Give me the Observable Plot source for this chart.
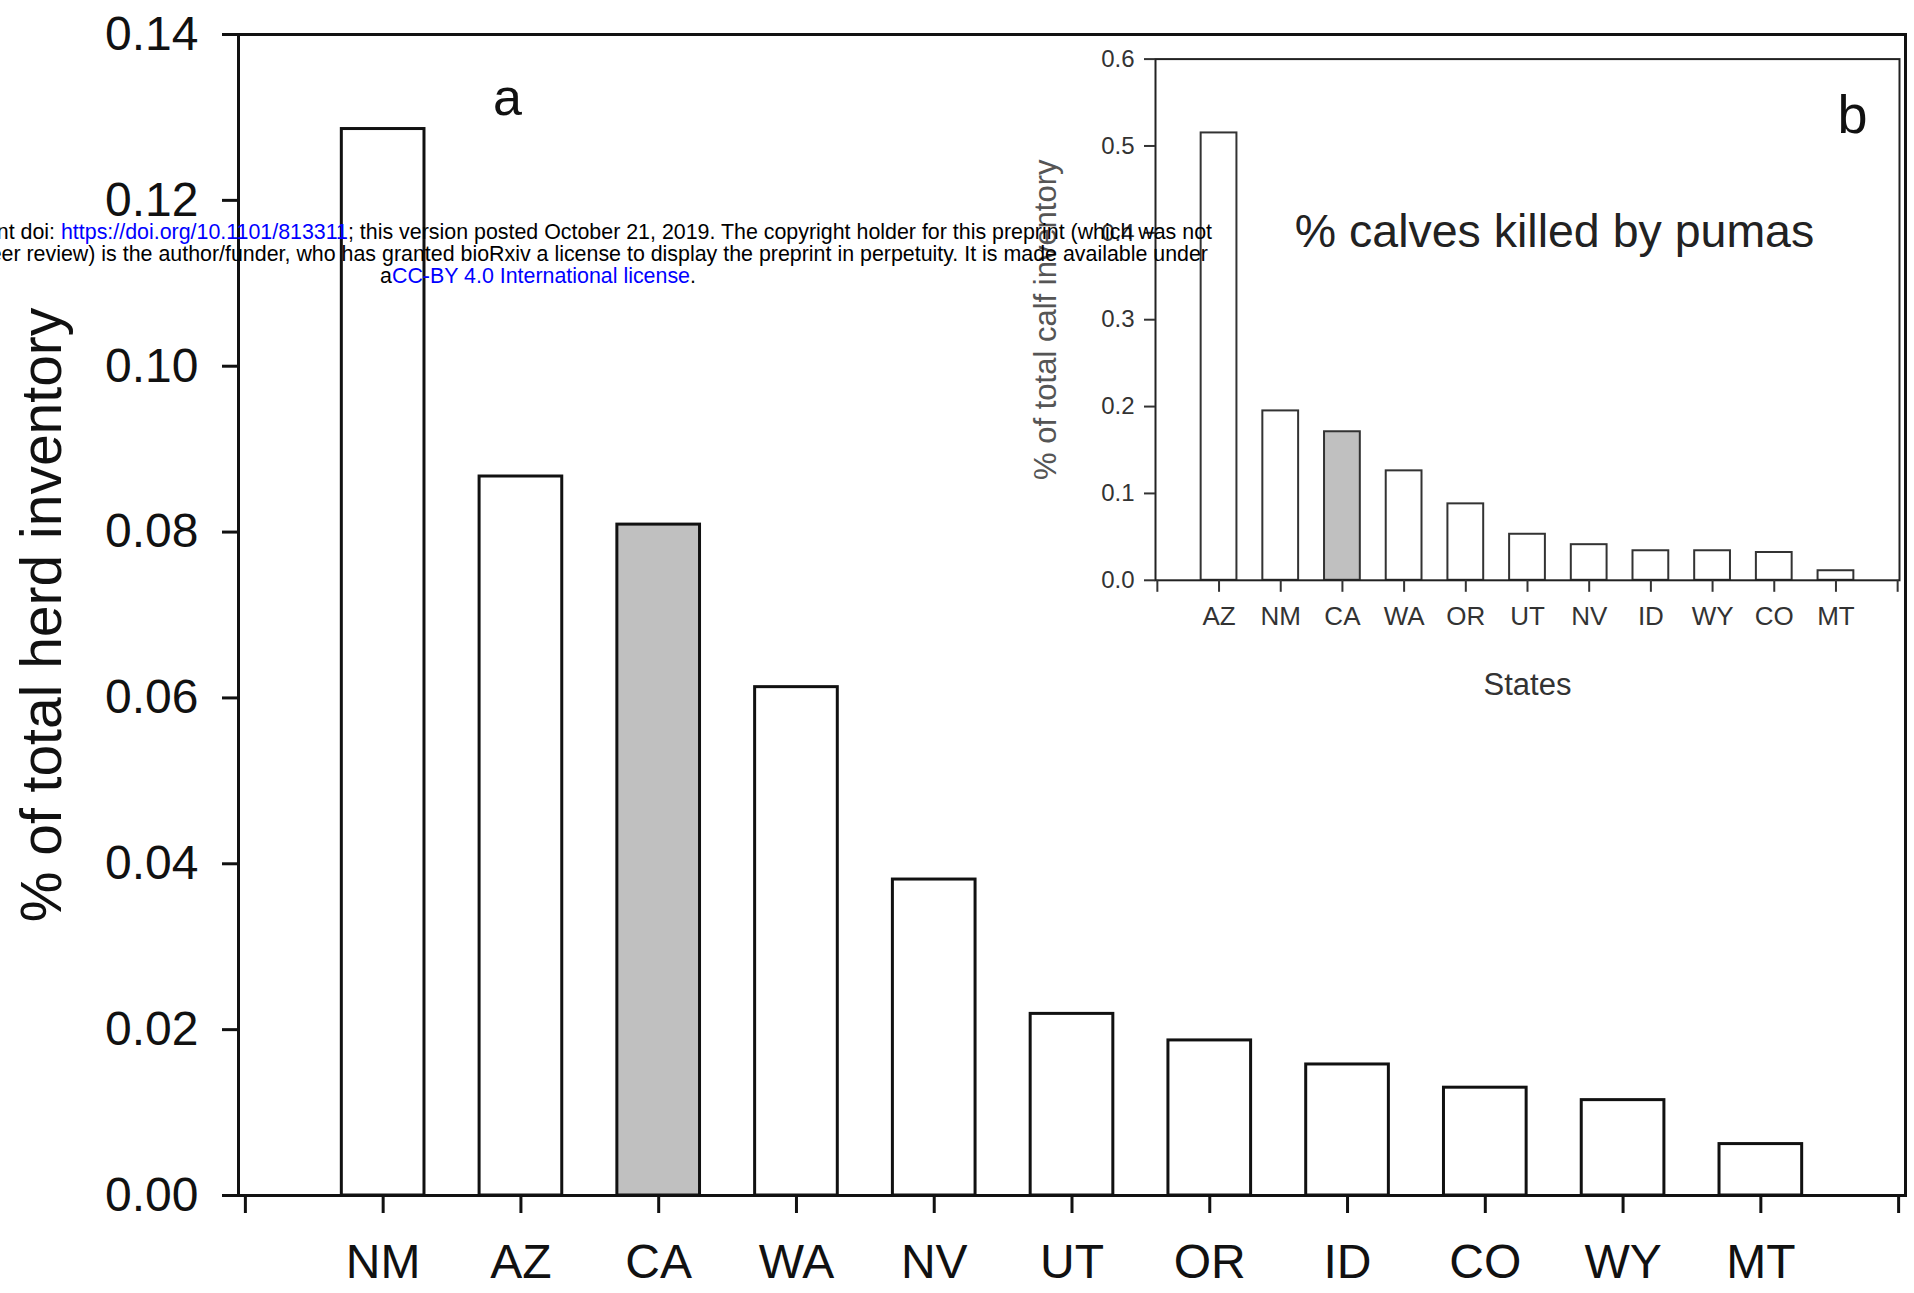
<!DOCTYPE html>
<html><head><meta charset="utf-8">
<script src="https://cdn.jsdelivr.net/npm/d3@7"></script>
<script src="https://cdn.jsdelivr.net/npm/@observablehq/plot@0.6"></script>
<style>
html,body{margin:0;padding:0;background:#fff;}
#wrap{position:relative;width:1914px;height:1293px;overflow:hidden;font-family:"Liberation Sans",Arial,sans-serif;background:#fff;}
#wrap svg{position:absolute;max-width:none;}
</style></head><body><div id="wrap"></div>
<script>
// Panel a: % of total herd inventory
const mainStates = ["NM","AZ","CA","WA","NV","UT","OR","ID","CO","WY","MT"];
const mainValues = [0.1286, 0.0867, 0.0809, 0.0613, 0.0381, 0.0219, 0.0187, 0.0158, 0.0130, 0.0115, 0.0062];
const mainYTicks = [0, 0.02, 0.04, 0.06, 0.08, 0.10, 0.12, 0.14];
// Panel b: % of total calf inventory
const insetStates = ["AZ","NM","CA","WA","OR","UT","NV","ID","WY","CO","MT"];
const insetValues = [0.515, 0.195, 0.171, 0.126, 0.088, 0.053, 0.041, 0.034, 0.034, 0.032, 0.011];
const insetYTicks = [0, 0.1, 0.2, 0.3, 0.4, 0.5, 0.6];
const highlight = "CA";

const FONT = "Liberation Sans, Arial, sans-serif";
const wrap = document.getElementById("wrap");

const mainData = mainStates.map((s, i) => ({state: s, pos: i + 1, value: mainValues[i]}));
const insetData = insetStates.map((s, i) => ({state: s, pos: i + 1, value: insetValues[i]}));

const main = Plot.plot({
  width: 1914, height: 1293,
  marginLeft: 238, marginRight: 9, marginTop: 34, marginBottom: 98,
  style: {fontFamily: FONT, background: "transparent", color: "#111", overflow: "visible"},
  x: {type: "linear", domain: [-0.05, 12.05]},
  y: {domain: [0, 0.14]},
  marks: [
    Plot.rectY(mainData.filter(d => d.state !== highlight), {x1: d => d.pos - 0.3, x2: d => d.pos + 0.3, y1: 0, y2: "value", fill: "#fff", stroke: "#111", strokeWidth: 3}),
    Plot.rectY(mainData.filter(d => d.state === highlight), {x1: d => d.pos - 0.3, x2: d => d.pos + 0.3, y1: 0, y2: "value", fill: "#c0c0c0", stroke: "#111", strokeWidth: 3}),
    Plot.frame({stroke: "#111", strokeWidth: 3}),
    Plot.axisY({ticks: mainYTicks, tickFormat: d3.format(".2f"), tickSize: 16, tickPadding: 24, fontSize: 48, strokeWidth: 3, label: null}),
    Plot.axisX({ticks: d3.range(0, 13), tickFormat: i => mainStates[i - 1] ?? "", tickSize: 18, tickPadding: 30, fontSize: 48, strokeWidth: 3, label: null}),
    Plot.text(["% of total herd inventory"], {frameAnchor: "left", dx: -196, rotate: -90, fontSize: 57, fill: "#111", lineAnchor: "middle", textAnchor: "middle"}),
    Plot.text(["a"], {frameAnchor: "top-left", dx: 269, dy: 64, fontSize: 52, fill: "#111", lineAnchor: "middle", textAnchor: "middle"})
  ]
});
main.style.left = "0px"; main.style.top = "0px";
wrap.appendChild(main);

const inset = Plot.plot({
  width: 1014, height: 740,
  marginLeft: 255, marginRight: 15, marginTop: 58.6, marginBottom: 160.2,
  style: {fontFamily: FONT, background: "transparent", color: "#333", overflow: "visible"},
  x: {type: "linear", domain: [-0.03, 12.03]},
  y: {domain: [0, 0.6]},
  marks: [
    Plot.rectY(insetData.filter(d => d.state !== highlight), {x1: d => d.pos - 0.29, x2: d => d.pos + 0.29, y1: 0, y2: "value", fill: "#fff", stroke: "#333", strokeWidth: 2}),
    Plot.rectY(insetData.filter(d => d.state === highlight), {x1: d => d.pos - 0.29, x2: d => d.pos + 0.29, y1: 0, y2: "value", fill: "#c0c0c0", stroke: "#333", strokeWidth: 2}),
    Plot.frame({stroke: "#222", strokeWidth: 2}),
    Plot.axisY({ticks: insetYTicks, tickFormat: d3.format(".1f"), tickSize: 11, tickPadding: 10, fontSize: 24, strokeWidth: 2, label: null}),
    Plot.axisX({ticks: d3.range(0, 13), tickFormat: i => insetStates[i - 1] ?? "", tickSize: 12, tickPadding: 14, fontSize: 26, strokeWidth: 2, label: null}),
    Plot.text(["States"], {frameAnchor: "bottom", dy: 105, fontSize: 31, fill: "#333", lineAnchor: "middle", textAnchor: "middle"}),
    Plot.text(["% of total calf inventory"], {frameAnchor: "left", dx: -109, rotate: -90, fontSize: 31, fill: "#555", lineAnchor: "middle", textAnchor: "middle"}),
    Plot.text(["% calves killed by pumas"], {frameAnchor: "top", dx: 27, dy: 173, fontSize: 46.5, fill: "#222", lineAnchor: "middle", textAnchor: "middle"}),
    Plot.text(["b"], {frameAnchor: "top-right", dx: -47, dy: 57, fontSize: 54, fill: "#111", lineAnchor: "middle", textAnchor: "middle"})
  ]
});
inset.style.left = "900px"; inset.style.top = "0px";
wrap.appendChild(inset);

// bioRxiv header overlay
const svg = d3.create("svg").attr("width", 1914).attr("height", 1293)
  .style("left", "0px").style("top", "0px").style("font-family", FONT).style("font-size", "21.4px");
const t1 = svg.append("text").attr("x", 1212).attr("y", 239).attr("text-anchor", "end");
t1.append("tspan").text("bioRxiv preprint doi: ");
t1.append("tspan").attr("fill", "#0000ff").text("https://doi.org/10.1101/813311");
t1.append("tspan").text("; this version posted October 21, 2019. The copyright holder for this preprint (which was not");
svg.append("text").attr("x", 1208).attr("y", 261).attr("text-anchor", "end")
  .text("certified by peer review) is the author/funder, who has granted bioRxiv a license to display the preprint in perpetuity. It is made available under");
const t3 = svg.append("text").attr("x", 538).attr("y", 283).attr("text-anchor", "middle");
t3.append("tspan").text("a");
t3.append("tspan").attr("fill", "#0000ff").text("CC-BY 4.0 International license");
t3.append("tspan").text(".");
wrap.appendChild(svg.node());
</script></body></html>
